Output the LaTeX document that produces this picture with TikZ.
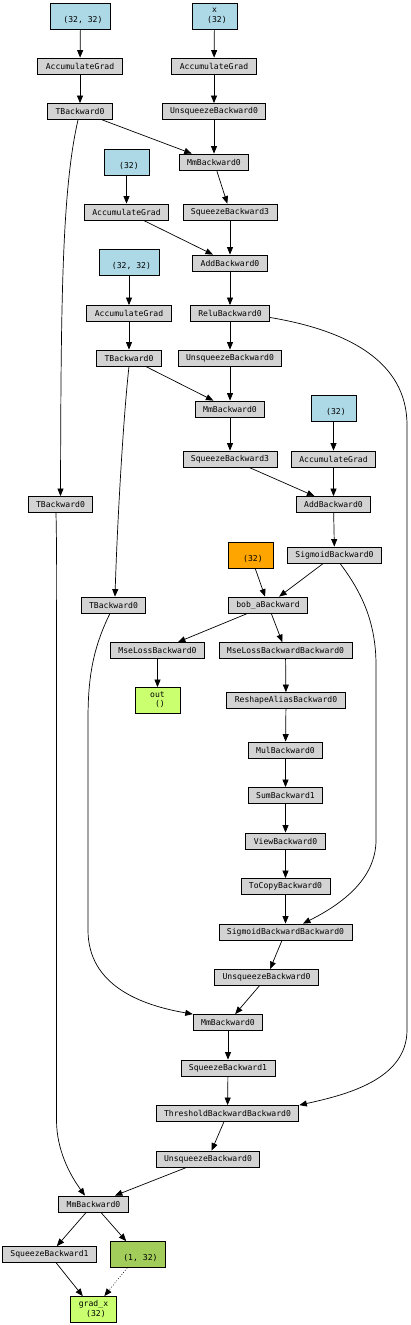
\documentclass[tikz,border=0pt]{standalone}
\usepackage{fontspec}
\setmonofont{DejaVu Sans Mono}
\usetikzlibrary{arrows.meta}

\definecolor{gvgrey}{HTML}{D3D3D3}
\definecolor{gvblue}{HTML}{ADD8E6}
\definecolor{gvorange}{HTML}{FFA500}
\definecolor{gvgreen}{HTML}{CAFF70}
\definecolor{gvolive}{HTML}{A2CD5A}

\begin{document}
\begin{tikzpicture}[%
    x=1pt, y=1pt,
    block/.style={
      rectangle,
      draw=black,
      line width=0.8pt,
      fill=gvgrey,
      font=\ttfamily\fontsize{8.1}{8}\selectfont,
      inner xsep=8pt,
      inner ysep=1pt,
      minimum height=16pt
    },
    param/.style={
      rectangle,
      draw=black,
      line width=0.8pt,
      fill=gvblue,
      font=\ttfamily\fontsize{8.1}{8}\selectfont,
      align=center,
      inner xsep=8pt,
      inner ysep=1pt,
      minimum width=45pt,
      minimum height=26pt
    },
    line/.style={
      draw,
      line width=0.7pt,
      -{Triangle[length=7.5pt,width=6pt]}
    }
  ]
    \useasboundingbox (0,0) rectangle (411,-1325);

    % leaves and first layer
    \draw (80.5,-16) node[param] (w1) {\strut\\\strut\ (32, 32)};
    \draw (214.5,-16) node[param] (xin) {\strut x\\\strut\ (32)};
    \draw (80,-66) node[block] (ag1) {AccumulateGrad};
    \draw (214,-66) node[block] (ag2) {AccumulateGrad};
    \draw (80,-111.5) node[block] (t1) {TBackward0};
    \draw (214,-111.5) node[block] (un1) {UnsqueezeBackward0};
    \draw (214,-162) node[block] (mm1) {MmBackward0};
    \draw (126.5,-162) node[param] (b1) {\strut\\\strut\ (32)};
    \draw (126.5,-212) node[block] (ag3) {AccumulateGrad};
    \draw (230,-212) node[block] (sq1) {SqueezeBackward3};
    \draw (230,-263) node[block] (add1) {AddBackward0};

    % second layer
    \draw (129,-262.5) node[param] (w2) {\strut\\\strut\ (32, 32)};
    \draw (129,-313.5) node[block] (ag4) {AccumulateGrad};
    \draw (230,-313.5) node[block] (relu) {ReluBackward0};
    \draw (129,-358) node[block] (t2) {TBackward0};
    \draw (230,-358) node[block] (un2) {UnsqueezeBackward0};
    \draw (230,-409) node[block] (mm2) {MmBackward0};
    \draw (333.5,-408.5) node[param] (b2) {\strut\\\strut\ (32)};
    \draw (230,-459) node[block] (sq2) {SqueezeBackward3};
    \draw (333.5,-459) node[block] (ag5) {AccumulateGrad};
    \draw (60.5,-504.5) node[block] (t3) {TBackward0};
    \draw (333.5,-504.5) node[block] (add2) {AddBackward0};
    \draw (334.5,-555) node[block] (sig) {SigmoidBackward0};
    \draw (250.5,-555) node[param,fill=gvorange] (a) {\strut\\\strut\ (32)};
    \draw (113.5,-605) node[block] (t4) {TBackward0};
    \draw (268,-605) node[block] (bob) {bob\_aBackward};

    % loss and backward chain
    \draw (157.5,-650.5) node[block] (mse) {MseLossBackward0};
    \draw (285.5,-650.5) node[block] (mseb) {MseLossBackwardBackward0};
    \draw (157.5,-700.5) node[param,fill=gvgreen] (out) {\strut out\\\strut\ ()};
    \draw (286,-700.5) node[block] (resh) {ReshapeAliasBackward0};
    \draw (285.5,-750) node[block] (mul) {MulBackward0};
    \draw (285.5,-795.5) node[block] (sum) {SumBackward1};
    \draw (285.5,-841) node[block] (view) {ViewBackward0};
    \draw (285.5,-886.5) node[block] (copy) {ToCopyBackward0};
    \draw (285.5,-932) node[block] (sigb) {SigmoidBackwardBackward0};
    \draw (266.5,-977.5) node[block] (un3) {UnsqueezeBackward0};
    \draw (228,-1022.5) node[block] (mm3) {MmBackward0};
    \draw (228,-1068) node[block] (sq3) {SqueezeBackward1};
    \draw (227.5,-1113.5) node[block] (thr) {ThresholdBackwardBackward0};
    \draw (208,-1159) node[block] (un4) {UnsqueezeBackward0};
    \draw (93.5,-1204) node[block] (mm4) {MmBackward0};
    \draw (49.5,-1254.5) node[block] (sq4) {SqueezeBackward1};
    \draw (138,-1254.5) node[param,fill=gvolive] (g) {\strut\\\strut\ (1, 32)};
    \draw (93.5,-1309.5) node[param,fill=gvgreen] (gx) {\strut grad\_x\\\strut\ (32)};

    % edges
    \path[line] (w1) -- (ag1);
    \path[line] (ag1) -- (t1);
    \path[line] (xin) -- (ag2);
    \path[line] (ag2) -- (un1);
    \path[line] (un1) -- (mm1);
    \path[line] (t1) -- (mm1);
    \path[line] (mm1) -- (sq1);
    \path[line] (b1) -- (ag3);
    \path[line] (ag3) -- (add1);
    \path[line] (sq1) -- (add1);
    \path[line] (add1) -- (relu);
    \path[line] (w2) -- (ag4);
    \path[line] (ag4) -- (t2);
    \path[line] (relu) -- (un2);
    \path[line] (un2) -- (mm2);
    \path[line] (t2) -- (mm2);
    \path[line] (mm2) -- (sq2);
    \path[line] (b2) -- (ag5);
    \path[line] (ag5) -- (add2);
    \path[line] (sq2) -- (add2);
    \path[line] (add2) -- (sig);
    \path[line] (sig) -- (bob);
    \path[line] (a) -- (bob);
    \path[line] (bob) -- (mse);
    \path[line] (mse) -- (out);
    \path[line] (bob) -- (mseb);
    \path[line] (mseb) -- (resh);
    \path[line] (resh) -- (mul);
    \path[line] (mul) -- (sum);
    \path[line] (sum) -- (view);
    \path[line] (view) -- (copy);
    \path[line] (copy) -- (sigb);
    \path[line] (sigb) -- (un3);
    \path[line] (un3) -- (mm3);
    \path[line] (mm3) -- (sq3);
    \path[line] (sq3) -- (thr);
    \path[line] (thr) -- (un4);
    \path[line] (un4) -- (mm4);
    \path[line] (mm4) -- (sq4);
    \path[line] (mm4) -- (g);
    \path[line] (sq4) -- (gx);
    \path[line,dotted] (g) -- (gx);

    % long curved edges
    \path[line] ([xshift=-2pt]t1.south) .. controls (62,-190) and (61,-300) .. (t3.north);
    \path[line] (t2.south) .. controls (123,-420) and (117,-530) .. ([xshift=1.5pt]t4.north);
    \path[line] ([xshift=-3.5pt]t4.south) .. controls (92,-650) and (88,-680) .. (88,-720)
      -- (88,-930) .. controls (88,-985) and (140,-1005) .. (mm3.north west);
    \path[line] ([xshift=-4.5pt]t3.south) .. controls (57,-560) and (56.5,-600) .. (56.5,-650)
      -- (56.5,-1120) .. controls (56.5,-1150) and (70,-1175) .. ([xshift=-8.5pt]mm4.north);
    \path[line] ([xshift=5.5pt]sig.south) .. controls (360,-590) and (376,-620) .. (376,-665)
      -- (376,-840) .. controls (376,-880) and (340,-905) .. ([xshift=17.5pt]sigb.north);
    \path[line] ([yshift=-4pt]relu.east) .. controls (345,-330) and (407,-360) .. (407,-425)
      -- (407,-1030) .. controls (407,-1080) and (345,-1095) .. (thr.north east);
  \end{tikzpicture}
\end{document}
